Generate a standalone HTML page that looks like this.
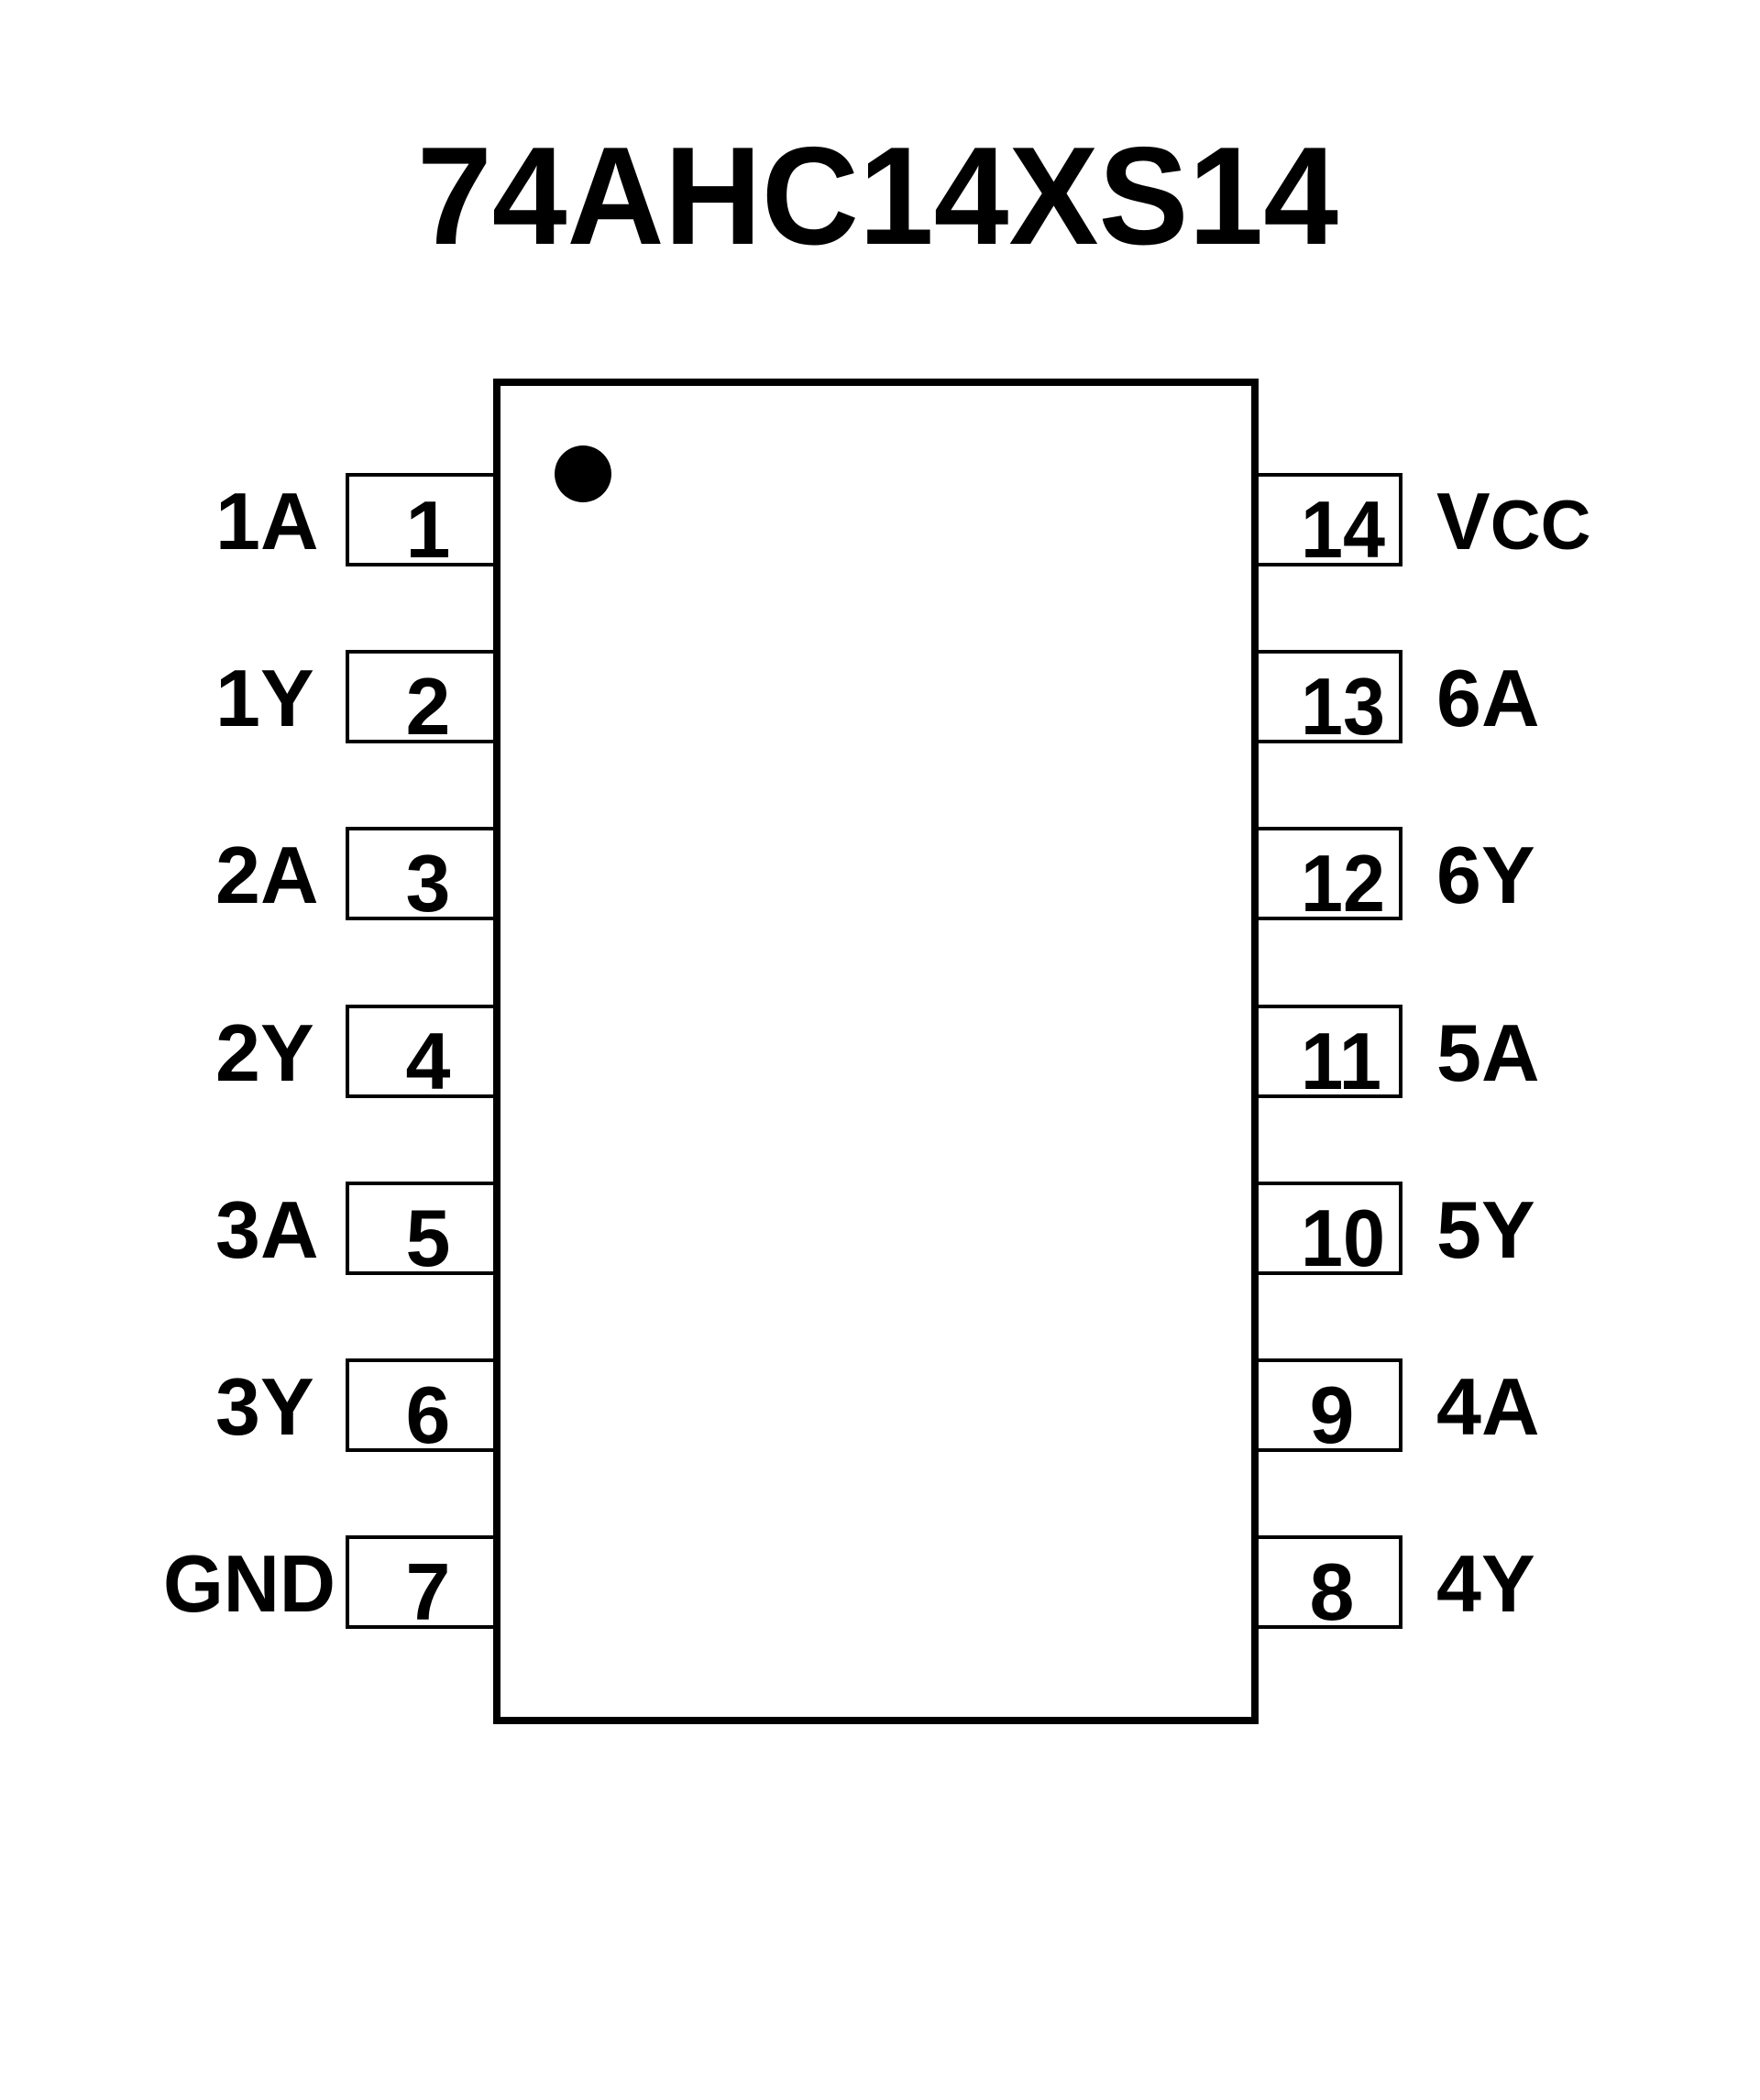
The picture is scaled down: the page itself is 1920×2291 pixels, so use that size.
<!DOCTYPE html>
<html><head><meta charset="utf-8"><style>
html,body{margin:0;padding:0;background:#fff;}
svg{display:block;}
text{font-family:"Liberation Sans",Arial,sans-serif;font-weight:bold;fill:#000;}
</style></head><body>
<svg width="1920" height="2291" viewBox="0 0 1920 2291" xmlns="http://www.w3.org/2000/svg">
<text x="455" y="266" font-size="152" textLength="1005" lengthAdjust="spacingAndGlyphs">74AHC14XS14</text>
<g fill="#fff" stroke="#000" stroke-width="4">
<rect x="379" y="518" width="164" height="98"/>
<rect x="379" y="711" width="164" height="98"/>
<rect x="379" y="904" width="164" height="98"/>
<rect x="379" y="1098" width="164" height="98"/>
<rect x="379" y="1291" width="164" height="98"/>
<rect x="379" y="1484" width="164" height="98"/>
<rect x="379" y="1677" width="164" height="98"/>
<rect x="1369" y="518" width="159" height="98"/>
<rect x="1369" y="711" width="159" height="98"/>
<rect x="1369" y="904" width="159" height="98"/>
<rect x="1369" y="1098" width="159" height="98"/>
<rect x="1369" y="1291" width="159" height="98"/>
<rect x="1369" y="1484" width="159" height="98"/>
<rect x="1369" y="1677" width="159" height="98"/>
</g>
<rect x="542" y="417" width="827" height="1460" fill="#fff" stroke="#000" stroke-width="8"/>
<circle cx="636" cy="517" r="31" fill="#000"/>
<g font-size="88">
<text x="235" y="599">1A</text>
<text x="235" y="792">1Y</text>
<text x="235" y="985">2A</text>
<text x="235" y="1179">2Y</text>
<text x="235" y="1372">3A</text>
<text x="235" y="1565">3Y</text>
<text x="178" y="1758" textLength="188" lengthAdjust="spacingAndGlyphs">GND</text>
<text x="1567" y="599">V<tspan font-size="76">CC</tspan></text>
<text x="1567" y="792">6A</text>
<text x="1567" y="985">6Y</text>
<text x="1567" y="1179">5A</text>
<text x="1567" y="1372">5Y</text>
<text x="1567" y="1565">4A</text>
<text x="1567" y="1758">4Y</text>
</g>
<g font-size="88" text-anchor="middle">
<text x="467" y="608">1</text>
<text x="467" y="801">2</text>
<text x="467" y="994">3</text>
<text x="467" y="1188">4</text>
<text x="467" y="1381">5</text>
<text x="467" y="1574">6</text>
<text x="467" y="1767">7</text>
<text x="1465" y="608" textLength="92" lengthAdjust="spacingAndGlyphs">14</text>
<text x="1465" y="801" textLength="92" lengthAdjust="spacingAndGlyphs">13</text>
<text x="1465" y="994" textLength="92" lengthAdjust="spacingAndGlyphs">12</text>
<text x="1463" y="1188" textLength="88" lengthAdjust="spacingAndGlyphs">11</text>
<text x="1465" y="1381" textLength="92" lengthAdjust="spacingAndGlyphs">10</text>
<text x="1453" y="1574">9</text>
<text x="1453" y="1767">8</text>
</g>
</svg>
</body></html>
